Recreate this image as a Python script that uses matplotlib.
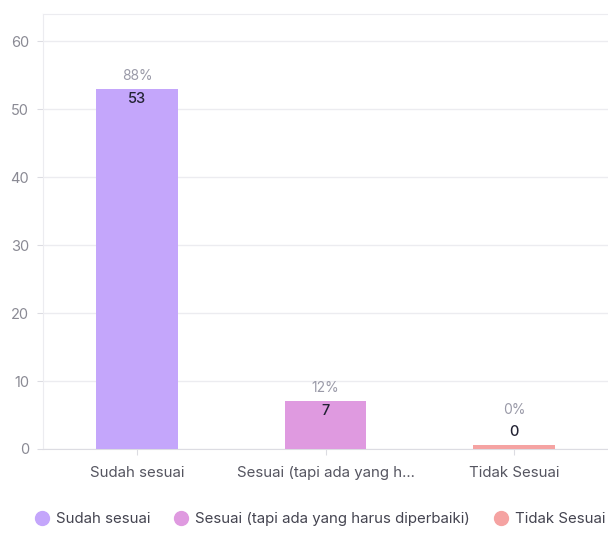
import matplotlib
matplotlib.use("Agg")
import matplotlib.pyplot as plt
from matplotlib.lines import Line2D

categories = ["Sudah sesuai", "Sesuai (tapi ada yang harus diperbaiki)", "Tidak Sesuai"]
tick_labels = ["Sudah sesuai", "Sesuai (tapi ada yang h...", "Tidak Sesuai"]
counts = [53, 7, 0]
percents = ["88%", "12%", "0%"]
colors = ["#c4a6fb", "#df9ae0", "#f5a3a2"]

plt.rcParams['font.family'] = ['Inter', 'DejaVu Sans']

fig = plt.figure(figsize=(6.08, 5.36), dpi=100)
ax = fig.add_axes([43/608, 87/536, 1 - 43/608, (449-14)/536])

x = list(range(len(categories)))
min_h = 0.6
heights = [max(c, min_h) for c in counts]
ax.bar(x, heights, width=0.434, color=colors, zorder=3)

for xi, c, p in zip(x, counts, percents):
    top = max(c, min_h)
    if c > 0:
        ax.annotate(p, (xi, top), xytext=(0, 13), textcoords='offset pixels',
                    ha='center', va='center', fontsize=10, color='#9a9aa8')
        ax.annotate(str(c), (xi, top), xytext=(0, -10), textcoords='offset pixels',
                    ha='center', va='center', fontsize=10.5, color='#222233',
                    fontweight='medium')
    else:
        ax.annotate(p, (xi, top), xytext=(0, 35), textcoords='offset pixels',
                    ha='center', va='center', fontsize=10, color='#9a9aa8')
        ax.annotate(str(c), (xi, top), xytext=(0, 13), textcoords='offset pixels',
                    ha='center', va='center', fontsize=10.5, color='#222233',
                    fontweight='medium')

ax.set_xlim(-0.5, 2.5)
ax.set_ylim(0, 64)
ax.set_yticks([0, 10, 20, 30, 40, 50, 60])
ax.set_xticks(x)
ax.set_xticklabels(tick_labels)
ax.tick_params(axis='both', colors='#dcdce2', labelcolor='#555560', labelsize=10.8, length=4)
ax.tick_params(axis='y', labelcolor='#8a8a94', labelsize=10.5, pad=6)
ax.tick_params(axis='x', pad=8)
ax.grid(axis='y', color='#ececf0', linewidth=1, zorder=0)
for s in ['top', 'left']:
    ax.spines[s].set_color('#ececf0')
ax.spines['right'].set_visible(False)
ax.spines['bottom'].set_color('#dcdce2')

handles = [Line2D([0], [0], marker='o', linestyle='', markersize=10,
                  markerfacecolor=col, markeredgecolor=col) for col in colors]
fig.legend(handles, categories, loc='center', bbox_to_anchor=(0.525, 1 - 519/536),
           ncol=3, frameon=False, fontsize=10.8, handletextpad=0.35, columnspacing=1.45,
           labelcolor='#444450', handlelength=1.2)

fig.savefig("out.png", dpi=100, facecolor='white')
